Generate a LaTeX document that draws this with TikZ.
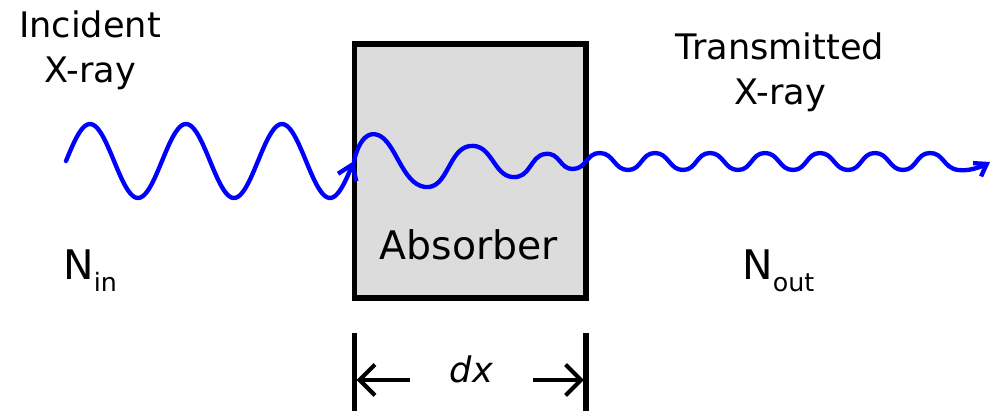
\documentclass[tikz,border=0pt]{standalone}
\usepackage{fontspec}
\setmainfont{DejaVu Sans}
\usetikzlibrary{arrows.meta,positioning}
\definecolor{absorbergray}{RGB}{220,220,220}
\tikzset{
  xray-wave/.style={draw=blue, line width=3.1pt, line cap=round, line join=round},
  absorber-box/.style={draw=black, fill=absorbergray, line width=4pt, outer sep=0pt,
    minimum width=5.79cm, minimum height=6.35cm, inner sep=0pt},
  ray-label/.style={font=\fontsize{25}{32}\selectfont, align=center, anchor=base, inner sep=0pt},
  count-label/.style={font=\fontsize{29}{32}\selectfont, anchor=base west, inner sep=0pt},
  dim-bar/.style={line width=4pt},
  dim-arrow/.style={line width=3pt, -{Straight Barb[length=11pt, width=22pt]}, shorten >=1.5pt},
  dim-label/.style={font=\fontsize{25}{30}\selectfont\itshape, minimum width=3.075cm,
    text height=4pt, text depth=0pt, inner sep=0pt}
}
\newcommand{\sub}[1]{\raisebox{-8pt}{\fontsize{18}{18}\selectfont #1}}

\begin{document}
\begin{tikzpicture}[x=0.025cm, y=-0.025cm]
  \useasboundingbox (0,0) rectangle (994,411);

  % absorber slab
  \node[absorber-box] (box) at (470.25,171) {};
  \node[font=\fontsize{28}{32}\selectfont, anchor=base, inner sep=0pt] (absorber) at (469,260) {Absorber};

  % incoming wave (wavelength 96)
  \draw[xray-wave, -{Straight Barb[length=10pt, width=14pt]}]
    plot[domain=66:354, samples=140] (\x, {161-37*sin(3.75*(\x-66))});

  % damped wave inside the slab, then the transmitted one
  \draw[xray-wave, -{Straight Barb[length=8pt, width=11pt]}]
    plot[smooth, tension=0.9] coordinates {(354,161) (378,135) (425,187)
      (470,146) (512,177) (545,154) (573,169) (600,153) (628,170)
      (655,153) (683,170) (710,153) (738,170) (765,153) (793,170)
      (820,153) (848,170) (875,153) (903,170) (930,153) (958,170)
      (990,162)};

  % labels (base = last line)
  \node[ray-label] (incident) at (90,83) {Incident\\X-ray};
  \node[ray-label] (transmitted) at (780,105) {Transmitted\\X-ray};
  \node[count-label] (nin) at (63,280) {N\sub{in}};
  \node[count-label] (nout) at (742,280) {N\sub{out}};

  % thickness
  \path (box.south west) ++(0,35) coordinate (barl-top) ++(0,78) coordinate (barl-bot);
  \path (box.south east) ++(0,35) coordinate (barr-top) ++(0,78) coordinate (barr-bot);
  \draw[dim-bar] (barl-top) -- (barl-bot);
  \draw[dim-bar] (barr-top) -- (barr-bot);
  \node[dim-label] (dx) at (471.5,380) {dx};
  \draw[dim-arrow] (dx.west) -- (dx.west -| barl-top);
  \draw[dim-arrow] (dx.east) -- (dx.east -| barr-top);
\end{tikzpicture}
\end{document}
